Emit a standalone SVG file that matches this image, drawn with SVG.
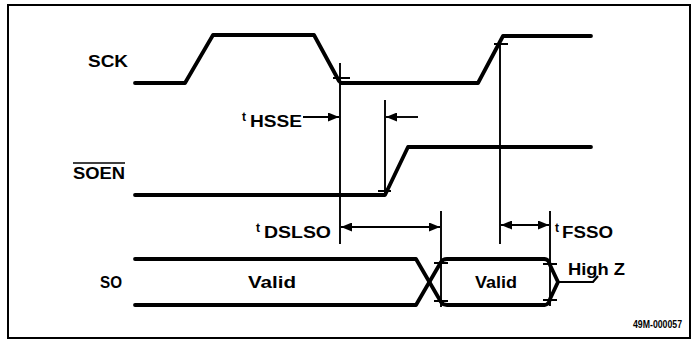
<svg xmlns="http://www.w3.org/2000/svg" width="696" height="342" viewBox="0 0 696 342">
<style>
text{font-family:"Liberation Sans",Arial,sans-serif;font-weight:bold;fill:#000}
.lbl{font-size:16px}
.sup{font-size:12px}
.wave{fill:none;stroke:#000;stroke-width:3.8;stroke-linejoin:round;stroke-linecap:round}
.tl{fill:none;stroke:#000;stroke-width:1.9}
.tick{fill:none;stroke:#000;stroke-width:1.9}
.frame{fill:none;stroke:#000;stroke-width:2}
</style>
<defs>
<marker id="ah" viewBox="0 0 11 9" refX="11" refY="4.5" markerWidth="11" markerHeight="9" markerUnits="userSpaceOnUse" orient="auto-start-reverse">
<path d="M0,0 L11,4.5 L0,9 Z" fill="#000"/>
</marker>
</defs>
<rect x="0" y="0" width="696" height="342" fill="#fff"/>
<rect class="frame" x="8" y="5" width="682" height="333"/>
<g id="sck">
<text class="lbl" x="88" y="67" textLength="40" lengthAdjust="spacingAndGlyphs">SCK</text>
<path class="wave" d="M135,83 H185 L213,35 H314 L339,81 L341,83 H478 L503,36 H591"/>
</g>
<g id="soen">
<text class="lbl" x="73" y="179" textLength="52" lengthAdjust="spacingAndGlyphs">SOEN</text>
<line x1="73" y1="163" x2="125" y2="163" stroke="#000" stroke-width="1.6"/>
<path class="wave" d="M135,195 H385 L408,147 H591"/>
</g>
<g id="so">
<text class="lbl" x="100" y="288" textLength="22" lengthAdjust="spacingAndGlyphs">SO</text>
<text class="lbl" x="248" y="288" textLength="48" lengthAdjust="spacingAndGlyphs">Valid</text>
<path class="wave" d="M135,259 H416 L441,302 Q443,305 447,305 H544"/>
<path class="wave" d="M135,305 H416 L441,262 Q443,259 447,259 H544"/>
<path class="wave" d="M544,259 Q549,259 550,265 L558,282 L550,299 Q549,305 544,305"/>
<text class="lbl" x="475" y="288" textLength="42" lengthAdjust="spacingAndGlyphs">Valid</text>
<path fill="none" stroke="#000" stroke-width="2.2" d="M558,282 H593 L598,276"/>
<text class="lbl" x="568" y="275" textLength="57" lengthAdjust="spacingAndGlyphs">High Z</text>
</g>
<g id="connectors">
<line class="tl" x1="340" y1="63" x2="340" y2="244"/>
<line class="tl" x1="385" y1="100" x2="385" y2="194"/>
<line class="tl" x1="500" y1="40" x2="500" y2="244"/>
<line class="tl" x1="441" y1="211" x2="441" y2="307"/>
<line class="tl" x1="550" y1="211" x2="550" y2="306"/>
<path class="tick" d="M333,78 H350 M494,44 H508 M378,191 H391 M434,263 H448 M434,301 H448 M543,264 H557 M543,300 H557"/>
<line class="tl" x1="303" y1="117" x2="339" y2="117" marker-end="url(#ah)"/>
<line class="tl" x1="418" y1="117" x2="386" y2="117" marker-end="url(#ah)"/>
<line class="tl" x1="341" y1="227" x2="440" y2="227" marker-start="url(#ah)" marker-end="url(#ah)"/>
<line class="tl" x1="501" y1="225" x2="549" y2="225" marker-start="url(#ah)" marker-end="url(#ah)"/>
</g>
<g id="labels">
<text class="sup" x="242" y="121">t</text>
<text class="lbl" x="250" y="127" textLength="52" lengthAdjust="spacingAndGlyphs">HSSE</text>
<text class="sup" x="256" y="232">t</text>
<text class="lbl" x="264" y="238" textLength="67" lengthAdjust="spacingAndGlyphs">DSLSO</text>
<text class="sup" x="555" y="232">t</text>
<text class="lbl" x="562" y="238" textLength="51" lengthAdjust="spacingAndGlyphs">FSSO</text>
<text x="633" y="328" font-size="10" textLength="49" lengthAdjust="spacingAndGlyphs">49M-000057</text>
</g>
</svg>
